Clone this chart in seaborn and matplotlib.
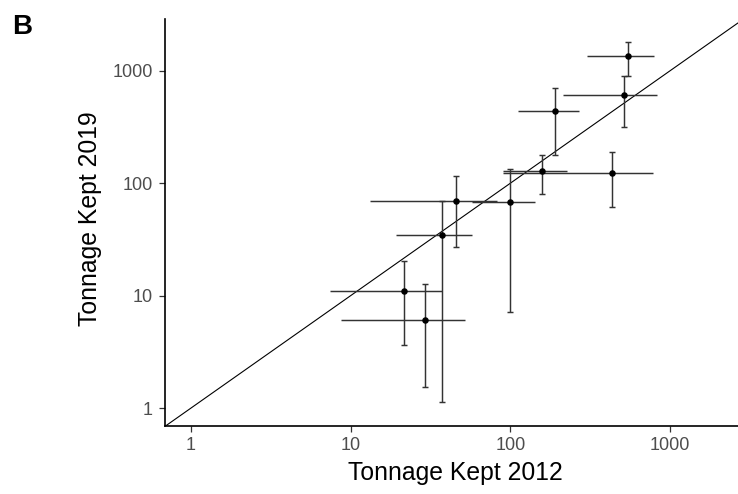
import matplotlib
matplotlib.use("Agg")
import matplotlib.pyplot as plt
import numpy as np
import pandas as pd
import seaborn as sns

# Tonnage kept per fishery, 2012 vs 2019, with lower/upper bounds
tonnage_2012 = [547, 514, 189, 435, 157, 99.4, 45.4, 37.1, 21.5, 29.3]
tonnage_2012_low = [303, 212, 112, 90, 90, 57.3, 13.2, 19.1, 7.42, 8.65]
tonnage_2012_high = [791, 824, 270, 778, 227, 142.6, 82, 57.3, 37.1, 52]
tonnage_2019 = [1351, 608, 438, 124, 128, 68.4, 69.8, 34.6, 11.0, 6.06]
tonnage_2019_low = [897, 314, 177, 61.7, 79.5, 7.19, 26.9, 1.14, 3.63, 1.55]
tonnage_2019_high = [1811, 902, 706, 190, 178, 133, 116, 69.8, 20.4, 12.7]

tick_values = [1, 10, 100, 1000]
tick_labels = ["1", "10", "100", "1000"]

df = pd.DataFrame({
    "x": tonnage_2012, "x_lo": tonnage_2012_low, "x_hi": tonnage_2012_high,
    "y": tonnage_2019, "y_lo": tonnage_2019_low, "y_hi": tonnage_2019_high,
})

sns.set_theme(style="ticks")
plt.rcParams["font.family"] = ["Liberation Sans", "DejaVu Sans"]

fig = plt.figure(figsize=(7.38, 4.94), dpi=100)
ax = fig.add_axes([165 / 738, 68 / 494, 573 / 738, 407 / 494])
ax.set_xscale("log")
ax.set_yscale("log")
ax.set_xlim(0.687, 2661)
ax.set_ylim(0.692, 2884)

# 1:1 reference line
ax.axline((1, 1), (10, 10), color="black", lw=0.8, zorder=1)

bar_color = "#333333"
# horizontal ranges (no end caps)
ax.errorbar(
    df["x"], df["y"],
    xerr=[df["x"] - df["x_lo"], df["x_hi"] - df["x"]],
    fmt="none", ecolor=bar_color, elinewidth=1.05, capsize=0, zorder=2,
)
# vertical ranges with small caps
ax.errorbar(
    df["x"], df["y"],
    yerr=[df["y"] - df["y_lo"], df["y_hi"] - df["y"]],
    fmt="none", ecolor=bar_color, elinewidth=1.05, capsize=2.4,
    capthick=1.05, zorder=2,
)
sns.scatterplot(data=df, x="x", y="y", ax=ax, color="black", s=22,
                edgecolor="black", linewidth=0, zorder=3)

ax.set_xticks(tick_values)
ax.set_xticklabels(tick_labels)
ax.set_yticks(tick_values)
ax.set_yticklabels(tick_labels)
ax.minorticks_off()
ax.tick_params(axis="both", which="major", length=4.5, width=0.9,
               color="#333333", labelcolor="#4D4D4D", labelsize=13)
ax.tick_params(axis="x", pad=3.5)
ax.tick_params(axis="y", pad=4.5)

for side in ("top", "right"):
    ax.spines[side].set_visible(False)
for side in ("left", "bottom"):
    ax.spines[side].set_color("black")
    ax.spines[side].set_linewidth(1.2)

ax.set_xlabel("Tonnage Kept 2012", fontsize=17.8, color="black")
ax.set_ylabel("Tonnage Kept 2019", fontsize=17.8, color="black")
ax.xaxis.set_label_coords(0.507, -0.087)
ax.yaxis.set_label_coords(-0.11, 0.51)

fig.text(12 / 738, 1 - 34 / 494, "B", fontsize=20, fontweight="bold",
         va="baseline", ha="left", color="black")

fig.savefig("out.png", dpi=100)
